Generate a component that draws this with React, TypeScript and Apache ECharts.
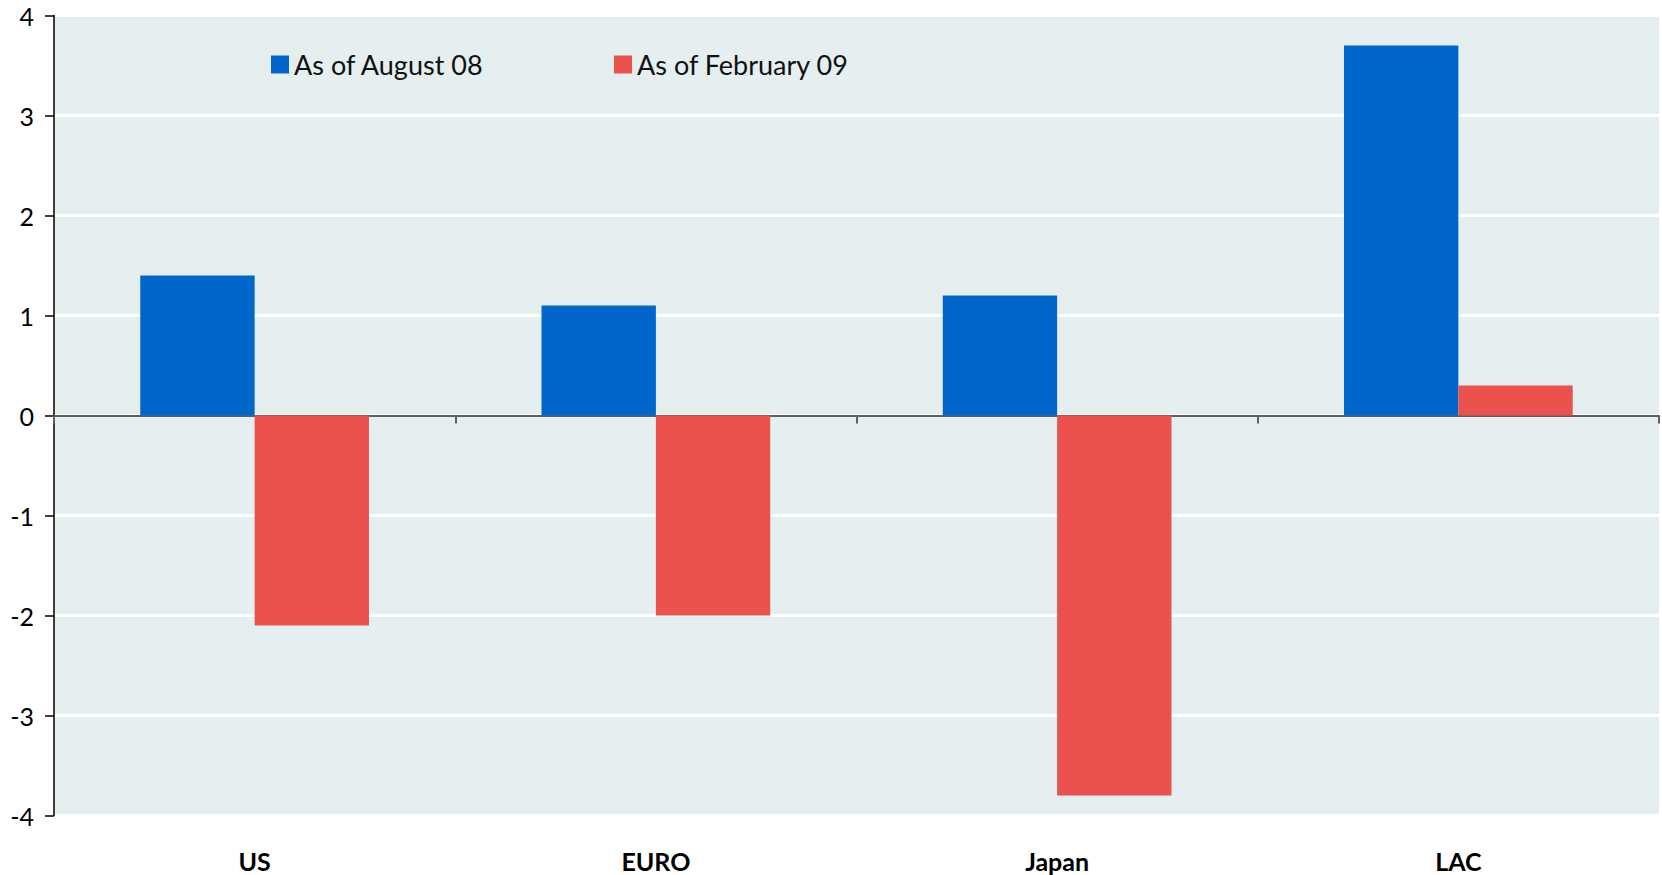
import React, { useEffect, useRef } from "react";
import * as echarts from "echarts";

// Regions compared
const categories = ["US", "EURO", "Japan", "LAC"];
// Values at each date
const august08 = [1.4, 1.1, 1.2, 3.7];
const february09 = [-2.1, -2.0, -3.8, 0.3];
const seriesNames = ["As of August 08", "As of February 09"];

const BLUE = "#0066CC";
const RED = "#EB524E";
const PLOT_BG = "#E5EFF0";
const FONT = "Lato, 'Open Sans', sans-serif";

export default function App() {
  const ref = useRef<HTMLDivElement>(null);

  useEffect(() => {
    if (!ref.current) return;
    const chart = echarts.init(ref.current, undefined, { renderer: "svg" });
    const legendText = { fontSize: 27, color: "#111", fontFamily: FONT };
    chart.setOption({
      animation: false,
      backgroundColor: "#ffffff",
      textStyle: { fontFamily: FONT },
      grid: {
        left: 54,
        right: 3,
        top: 15.5,
        bottom: 59.5,
        show: true,
        backgroundColor: PLOT_BG,
        borderWidth: 0,
      },
      legend: [
        {
          data: [seriesNames[0]],
          left: 266,
          top: 46,
          itemWidth: 18,
          itemHeight: 18,
          icon: "rect",
          textStyle: legendText,
        },
        {
          data: [seriesNames[1]],
          left: 609,
          top: 46,
          itemWidth: 18,
          itemHeight: 18,
          icon: "rect",
          textStyle: legendText,
        },
      ],
      xAxis: [
        {
          type: "category",
          data: categories,
          axisLine: { onZero: true, lineStyle: { color: "#606060", width: 2 } },
          axisTick: { show: true, length: 8, lineStyle: { color: "#606060", width: 2 } },
          axisLabel: { show: false },
        },
        {
          type: "category",
          data: categories,
          position: "bottom",
          axisLine: { show: false, onZero: false },
          axisTick: { show: false },
          axisLabel: {
            margin: 33,
            fontSize: 25,
            lineHeight: 24,
            fontWeight: "bold",
            color: "#000",
            fontFamily: FONT,
          },
        },
      ],
      yAxis: {
        type: "value",
        min: -4,
        max: 4,
        interval: 1,
        axisLine: { show: true, lineStyle: { color: "#000", width: 1.5 } },
        axisTick: { show: true, length: 9, lineStyle: { color: "#000", width: 1.5 } },
        axisLabel: { margin: 20, fontSize: 25, color: "#000", fontFamily: FONT },
        splitLine: { show: true, lineStyle: { color: "#ffffff", width: 3 } },
      },
      series: [
        {
          name: seriesNames[0],
          type: "bar",
          xAxisIndex: 0,
          data: august08,
          itemStyle: { color: BLUE },
          barGap: "0%",
          barCategoryGap: "43%",
        },
        {
          name: seriesNames[1],
          type: "bar",
          xAxisIndex: 0,
          data: february09,
          itemStyle: { color: RED },
          barGap: "0%",
          barCategoryGap: "43%",
        },
      ],
    });
    return () => chart.dispose();
  }, []);

  return (
    <div
      ref={ref}
      style={{ position: "fixed", left: 0, top: 0, width: 1662, height: 875 }}
    />
  );
}
